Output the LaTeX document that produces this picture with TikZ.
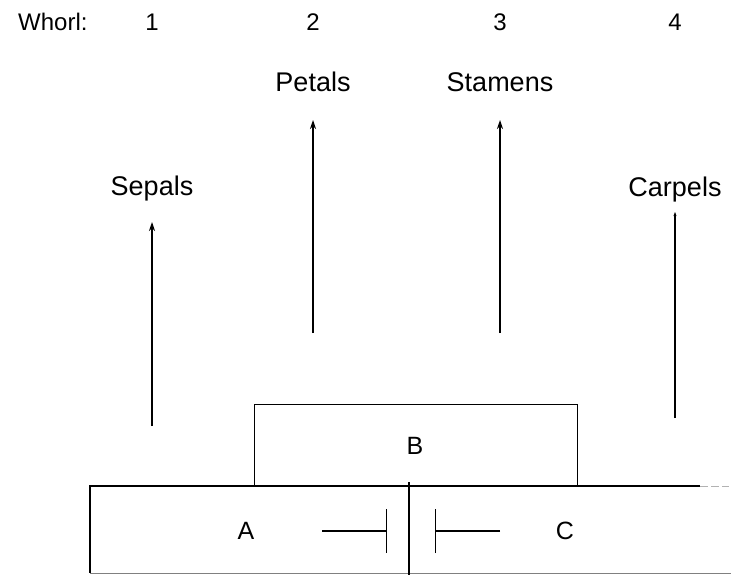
\documentclass[tikz,border=0pt]{standalone}
\usepackage{fontspec}
\setmainfont{Liberation Sans}
\usetikzlibrary{arrows.meta}
\begin{document}
\begin{tikzpicture}[x=1pt,y=-1pt,
  lbl/.style={font=\fontsize{27}{30}\selectfont, inner sep=0pt},
  letter/.style={font=\fontsize{25}{28}\selectfont, inner sep=0pt},
  whorlnum/.style={font=\fontsize{24}{26}\selectfont, inner sep=0pt},
  organ/.style={line width=1.2pt, -{Stealth[length=9pt,width=6pt]}},
  box/.style={draw, line width=1.2pt},
  inhib/.style={line width=1.1pt, -{Bar[width=44pt,line width=1.1pt]}}]
\useasboundingbox (0,0) rectangle (731,575);
% header
\node[whorlnum, anchor=west] (whorl) at (18,22) {Whorl:};
\node[whorlnum] (w1) at (152,22) {1};
\node[whorlnum] (w2) at (313,22) {2};
\node[whorlnum] (w3) at (500,22) {3};
\node[whorlnum] (w4) at (675,22) {4};
% organ labels
\node[lbl] (sepals) at (152,189) {Sepals};
\node[lbl] (petals) at (313,82) {Petals};
\node[lbl] (stamens) at (500,82) {Stamens};
\node[lbl] (carpels) at (675,190) {Carpels};
% arrow end points
\coordinate (s0) at (152,426);
\coordinate (s1) at (152,222);
\coordinate (p0) at (313,333);
\coordinate (p1) at (313,120);
\coordinate (t0) at (500,333);
\coordinate (t1) at (500,120);
\coordinate (c0) at (675,418);
\coordinate (c1) at (675,212);
\draw[organ] (s0) -- (s1);
\draw[organ] (p0) -- (p1);
\draw[organ] (t0) -- (t1);
\draw[line width=1.2pt, -{Stealth[length=4pt,width=3pt]}] (c0) -- (c1);
% B box
\node[box, minimum width=323pt, minimum height=82pt, anchor=north west, inner sep=0pt] (Bbox) at (254,404) {};
\node[letter] (B) at (415,446) {B};
% A / C region
\coordinate (ATL) at (90,486);
\coordinate (ABL) at (90,573);
\coordinate (TR) at (700,486);
\coordinate (BR) at (731,573);
\coordinate (D0) at (409,482);
\coordinate (D1) at (409,575);
\draw[line width=1.2pt] (TR) -- (ATL) -- (ABL);
\draw[gray, line width=1pt] (ABL) -- (BR);
\draw[gray!60, line width=1pt, dash pattern=on 8pt off 3pt] (TR) -- (729,486);
\draw[line width=1.2pt] (D0) -- (D1);
\node[letter] (A) at (246,531) {A};
\node[letter] (C) at (565,531) {C};
\coordinate (a0) at (322,531);
\coordinate (a1) at (387,531);
\coordinate (c2) at (500,531);
\coordinate (c3) at (435,531);
\draw[inhib] (a0) -- (a1);
\draw[inhib] (c2) -- (c3);
\end{tikzpicture}
\end{document}
